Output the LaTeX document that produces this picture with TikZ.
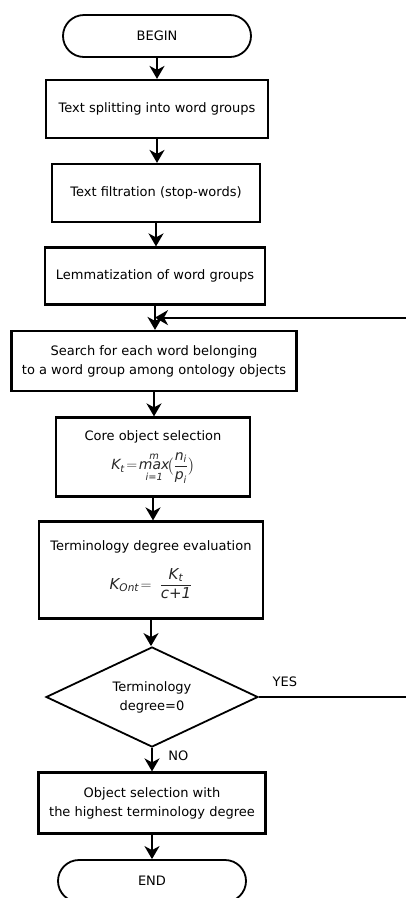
\documentclass[tikz,border=0pt]{standalone}
\usepackage{amsmath}
\usepackage{fontspec}
\setmainfont{DejaVu Sans}
\usetikzlibrary{shapes.geometric,arrows.meta,positioning}
\tikzset{
  terminal/.style={draw, line width=1.8pt, rounded corners=21pt, minimum width=188pt, minimum height=42pt},
  stepbox/.style={draw, line width=2.2pt, align=center, inner sep=2pt},
  decision/.style={draw, diamond, line width=1.8pt, align=center, aspect=2.1, minimum width=212pt, minimum height=100pt, inner sep=-6pt},
  flow/.style={line width=2pt, -{Stealth[length=13pt,width=15pt,inset=4pt]}},
}
\begin{document}
\begin{tikzpicture}[x=1pt, y=-1pt, font=\fontsize{13}{19}\selectfont]
\useasboundingbox (0,0) rectangle (406,898);
\node[terminal] (begin) at (157,36) {BEGIN};
\node[stepbox, minimum width=222pt, minimum height=58pt] (split) at (157,109) {Text splitting into word groups};
\node[stepbox, minimum width=208pt, minimum height=58pt] (filter) at (156,193) {Text filtration (stop-words)};
\node[stepbox, minimum width=220pt, minimum height=57pt] (lemma) at (155,276) {Lemmatization of word groups};
\node[stepbox, minimum width=285pt, minimum height=60pt] (search) at (154,361) {Search for each word belonging\\to a word group among ontology objects};
\node[stepbox, minimum width=194pt, minimum height=79pt] (core) at (153,457)
  {Core object selection\\[8pt]
   \color{black!85}\fontsize{14}{18}\selectfont$\textit{K}_{\textit{t}}\!=\!\mathop{\textit{max}}\limits_{\textit{i=1}}^{\textit{m}}\!\bigl(\genfrac{}{}{0.6pt}{0}{\textit{n}_{\textit{i}}}{\textit{p}_{\textit{i}}}\bigr)$};
\node[stepbox, minimum width=224pt, minimum height=97pt] (degree) at (151,570)
  {Terminology degree evaluation\\[14pt]
   \color{black!85}\fontsize{15}{18}\selectfont$\textit{K}_{\textit{Ont}}\!=\;\dfrac{\textit{K}_{\textit{t}}}{\textit{c+1}}$};
\node[decision] (check) at (152,697) {Terminology\\degree=0};
\node[stepbox, minimum width=227pt, minimum height=61pt] (select) at (152,803) {Object selection with\\the highest terminology degree};
\node[terminal] (finish) at (152,881) {END};
% main flow
\foreach \a/\b in {begin/split, split/filter, filter/lemma, lemma/search, search/core, core/degree, degree/check, select/finish}
  \draw[flow] (\a.south) -- (\a.south |- \b.north);
\draw[flow] (check.south) -- (check.south |- select.north) node[pos=0.35, right=12pt] {NO};
% loop back
\path (lemma.south) ++(0,12) coordinate (merge);
\coordinate (loopright) at (412,697);
\draw[flow] (check.east) -- node[pos=0.17, above=6pt] {YES} (check.east -| loopright)
  -- (loopright |- merge) -- (merge);
\end{tikzpicture}
\end{document}
